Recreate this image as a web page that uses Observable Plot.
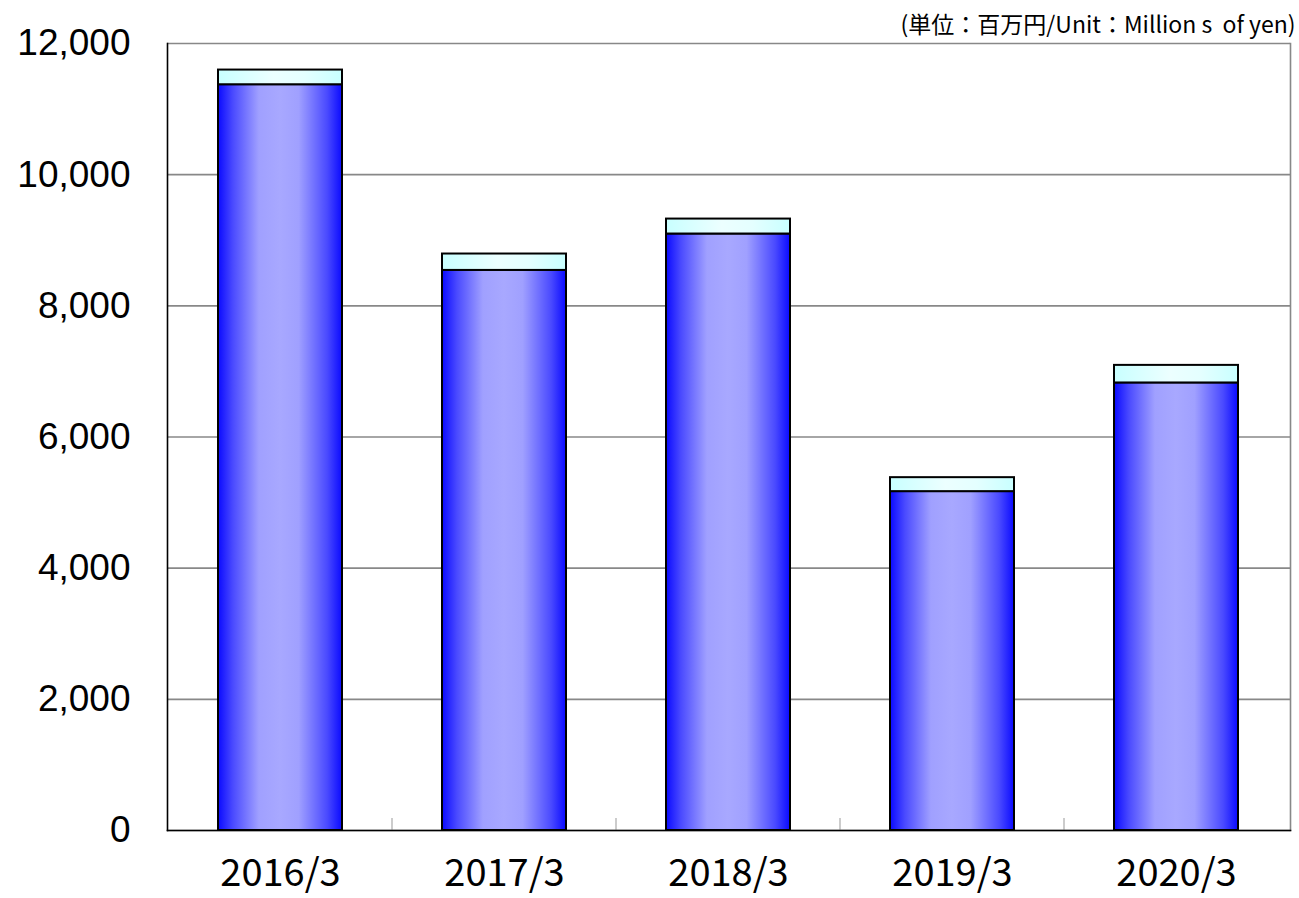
<!DOCTYPE html>
<html>
<head>
<meta charset="utf-8">
<script src="https://cdn.jsdelivr.net/npm/d3@7"></script>
<script src="https://cdn.jsdelivr.net/npm/@observablehq/plot@0.6"></script>
<style>
  html, body { margin: 0; padding: 0; background: #fff; }
  #chart { width: 1299px; height: 898px; }
</style>
</head>
<body>
<div id="chart"></div>
<script>
const categories = ["2016/3", "2017/3", "2018/3", "2019/3", "2020/3"];
const mainValues = [11371, 8540, 9095, 5167, 6824];
const upperValues = [224, 250, 228, 213, 268];
const yTicks = [0, 2000, 4000, 6000, 8000, 10000, 12000];
const unitLabel = "(単位：百万円/Unit：Million s  of yen)";

const data = categories.map((c, i) => ({
  cat: c,
  main: mainValues[i],
  top: mainValues[i] + upperValues[i]
}));

const defs = () => {
  const svg = d3.create("svg:g");
  const d = svg.append("defs");
  const g1 = d.append("linearGradient").attr("id", "gBlue").attr("x1", 0).attr("x2", 1).attr("y1", 0).attr("y2", 0);
  [[0, "#0a0aff"], [0.12, "#4a4aff"], [0.33, "#a0a0ff"], [0.5, "#a8a8ff"], [0.65, "#a0a0ff"], [0.88, "#4a4aff"], [1, "#0a0aff"]]
    .forEach(([o, c]) => g1.append("stop").attr("offset", o).attr("stop-color", c));
  const g2 = d.append("linearGradient").attr("id", "gCyan").attr("x1", 0).attr("x2", 1).attr("y1", 0).attr("y2", 0);
  [[0, "#c8ffff"], [0.45, "#ecffff"], [0.7, "#e4ffff"], [1, "#c8ffff"]]
    .forEach(([o, c]) => g2.append("stop").attr("offset", o).attr("stop-color", c));
  return svg.node();
};

const boundaryTicks = (index, scales, values, dims) => {
  const x = scales.x;
  const g = d3.create("svg:g");
  const bw = x.bandwidth ? x.bandwidth() : 0;
  const st = x.step ? x.step() : 0;
  const y0 = dims.height - dims.marginBottom;
  categories.slice(0, -1).forEach(c => {
    const px = x(c) + bw / 2 + st / 2;
    g.append("line").attr("x1", px).attr("x2", px).attr("y1", y0 - 12).attr("y2", y0)
      .attr("stroke", "#bbb").attr("stroke-width", 1.5);
  });
  return g.node();
};

const plot = Plot.plot({
  width: 1299,
  height: 898,
  marginTop: 43,
  marginBottom: 68,
  marginLeft: 167,
  marginRight: 9,
  style: { background: "#fff", overflow: "visible" },
  x: { domain: categories, paddingInner: 0.445, paddingOuter: 0.2225, label: null },
  y: { domain: [0, 12000], ticks: yTicks, label: null },
  marks: [
    defs,
    Plot.gridY(yTicks, { stroke: "#888", strokeOpacity: 1, strokeWidth: 1.6 }),
    Plot.frame({ anchor: "right", stroke: "#888", strokeWidth: 1.6 }),
    boundaryTicks,
    Plot.barY(data, { x: "cat", y1: 0, y2: "main", fill: "url(#gBlue)", stroke: "#000", strokeWidth: 2 }),
    Plot.barY(data, { x: "cat", y1: "main", y2: "top", fill: "url(#gCyan)", stroke: "#000", strokeWidth: 2 }),
    Plot.frame({ anchor: "left", stroke: "#000", strokeWidth: 1.6 }),
    Plot.frame({ anchor: "bottom", stroke: "#000", strokeWidth: 1.6 }),
    Plot.axisY({
      ticks: yTicks, tickSize: 0, tickPadding: 37, tickFormat: d3.format(","),
      fontSize: 37, fontFamily: "'Liberation Sans', Arial, sans-serif", fill: "#000"
    }),
    Plot.axisX({
      tickSize: 0, tickPadding: 29, fontSize: 38, fontWeight: 400,
      fontFamily: "'Noto Sans CJK JP', 'DejaVu Sans', sans-serif", fill: "#000"
    }),
    Plot.text([unitLabel], {
      frameAnchor: "top-right", dy: -27, dx: 5, textAnchor: "end",
      fontSize: 23, fontWeight: 400, fontFamily: "'Noto Sans CJK JP', sans-serif", fill: "#000"
    })
  ]
});
document.getElementById("chart").appendChild(plot);
</script>
</body>
</html>
